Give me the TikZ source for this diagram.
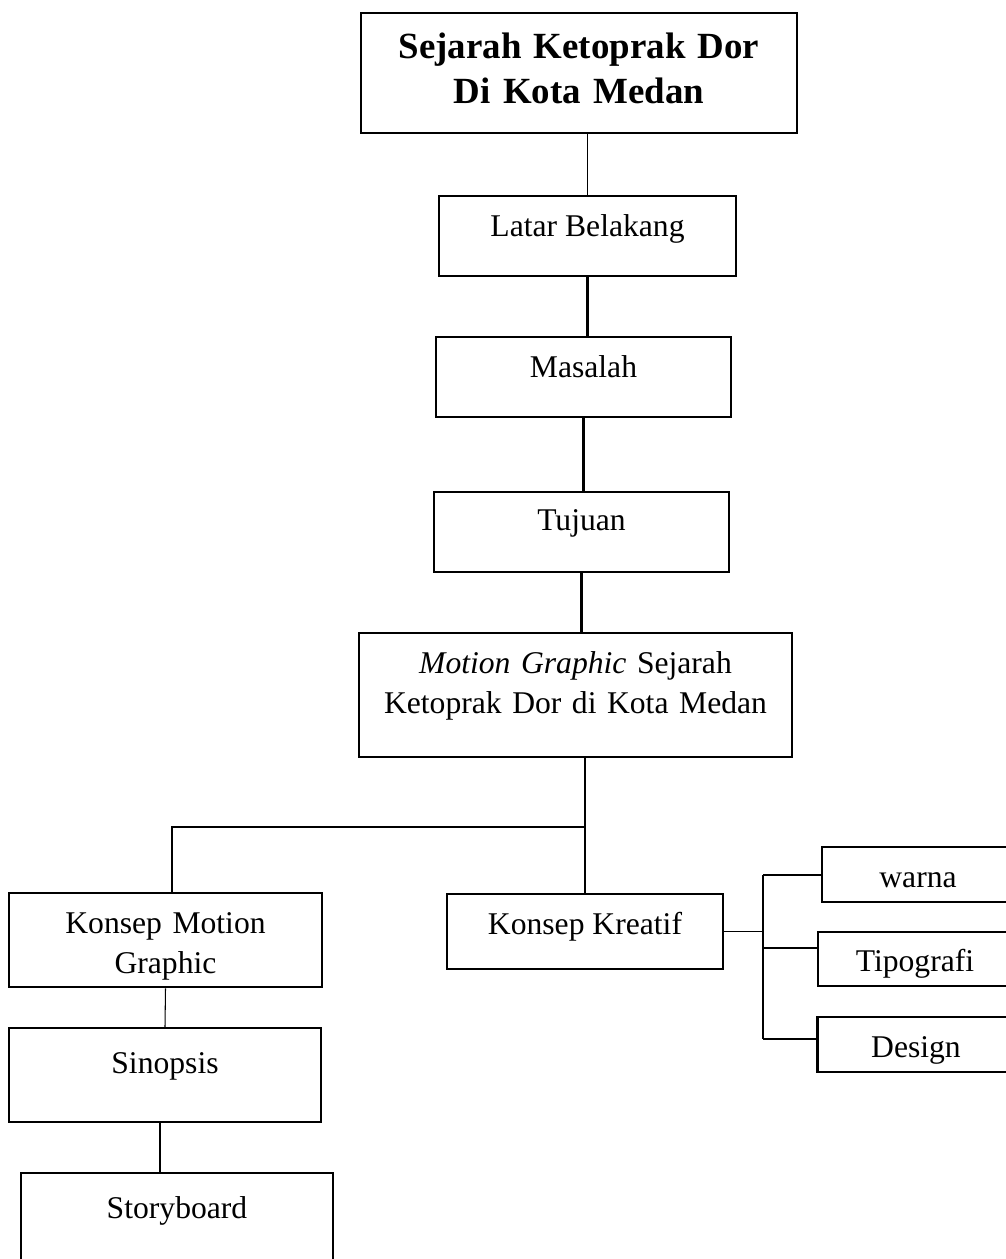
\documentclass[tikz,border=0pt]{standalone}
\usepackage{fontspec}
\setmainfont{Liberation Serif}
\begin{document}
\begin{tikzpicture}[x=0.02cm,y=-0.02cm,
	box/.style={draw,line width=1.4pt,inner sep=0pt,anchor=north,font=\fontsize{18}{22.7}\selectfont},
	link/.style={line width=1.4pt},
	thinlink/.style={line width=0.6pt}]
\useasboundingbox (0,0) rectangle (1006,1259);
\clip (0,0) rectangle (1006,1259);
% main column
\node[box,font=\bfseries\fontsize{21}{25.5}\selectfont,text width=8.72cm,align=center,
	text height=0.9cm,text depth=1.5cm] (title) at (579,12) {Sejarah Ketoprak Dor\\Di Kota Medan};
\node[box,minimum width=5.94cm,text height=0.8cm,text depth=0.8cm] (latar) at (587.5,195) {Latar Belakang};
\node[box,minimum width=5.9cm,text height=0.8cm,text depth=0.8cm] (masalah) at (583.5,336) {Masalah};
\node[box,minimum width=5.9cm,text height=0.76cm,text depth=0.84cm] (tujuan) at (581.5,491) {Tujuan};
\node[box,text width=8.66cm,align=center,text height=0.8cm,text depth=1.68cm] (motion) at (575.5,632)
	{\textit{Motion Graphic} Sejarah\\Ketoprak Dor di Kota Medan};
% left branch
\node[box,text width=6.26cm,align=center,text height=0.8cm,text depth=1.08cm] (kmg) at (165.5,892)
	{Konsep Motion\\Graphic};
\node[box,minimum width=6.24cm,text height=0.9cm,text depth=0.98cm] (sinopsis) at (165,1027) {Sinopsis};
\node[box,minimum width=6.24cm,text height=0.9cm,text depth=1.2cm] (story) at (177,1172) {Storyboard};
% right branch
\node[box,minimum width=5.52cm,text height=0.8cm,text depth=0.7cm] (kk) at (585,893) {Konsep Kreatif};
\node[box,minimum width=3.84cm,text height=0.8cm,text depth=0.3cm] (warna) at (918,846) {warna};
\node[box,minimum width=3.88cm,text height=0.78cm,text depth=0.3cm] (tipo) at (915,931) {Tipografi};
\node[box,minimum width=3.94cm,text height=0.8cm,text depth=0.3cm] (design) at (916,1016) {Design};
\coordinate (fork) at (585,827);
\coordinate (bus) at (763,0);
% connectors
\draw[thinlink] (title.south -| latar.north) -- (latar.north);
\draw[link] (latar.south) -- (latar.south |- masalah.north);
\draw[link] (masalah.south) -- (masalah.south |- tujuan.north);
\draw[link] (tujuan.south) -- (tujuan.south |- motion.north);
\draw[link] (motion.south -| fork) -- (fork) -| ([xshift=0.13cm]kmg.north);
\draw[thinlink] (fork) -- (fork |- kk.north);
\draw[thinlink] (kmg.south) -- (sinopsis.north);
\draw[link] ([xshift=-0.1cm]sinopsis.south) -- ([xshift=-0.1cm]sinopsis.south |- story.north);
\draw[thinlink] (kk.east) -- (kk.east -| bus);
\draw[link] (bus |- warna.west) -- ([yshift=0.11cm]bus |- design.west);
\draw[link] (bus |- warna.west) -- (warna.west);
\draw[link] ([yshift=0.22cm]bus |- tipo.west) -- ([yshift=0.22cm]tipo.west);
\draw[link] ([yshift=0.11cm]bus |- design.west) -- ([yshift=0.11cm]design.west);
\end{tikzpicture}
\end{document}
